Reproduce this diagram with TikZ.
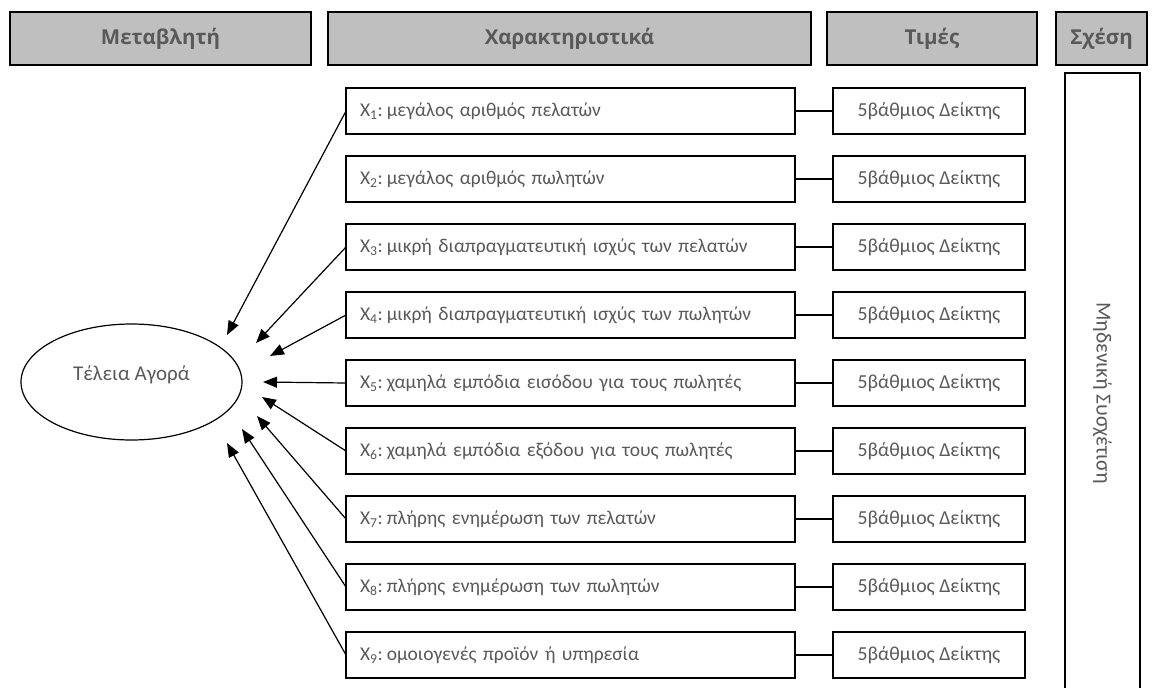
\documentclass[tikz,border=0pt]{standalone}
\usepackage{fontspec}
\setmainfont{Carlito}
\newfontfamily\headfont{Open Sans}
\usetikzlibrary{shapes.geometric, arrows.meta, positioning}
\definecolor{headgray}{HTML}{BFBFBF}
\definecolor{textgray}{HTML}{595959}
\tikzset{
    header/.style={
        rectangle,
        draw=black,
        line width=1.3pt,
        outer sep=0pt,
        fill=headgray,
        minimum height=53pt,
        text=textgray,
        font=\headfont\bfseries\fontsize{20.5}{22}\selectfont
    },
    item/.style={
        rectangle,
        draw=black,
        line width=1.2pt,
        outer sep=0pt,
        minimum height=46pt,
        text width=421pt,
        inner xsep=14pt,
        align=left,
        text=textgray,
        font=\fontsize{19.5}{21}\selectfont
    },
    value/.style={
        rectangle,
        draw=black,
        line width=1.2pt,
        outer sep=0pt,
        minimum width=192pt,
        minimum height=46pt,
        align=center,
        text=textgray,
        font=\fontsize{19.8}{21}\selectfont
    },
    link/.style={
        line width=1.2pt
    },
    arrow/.style={
        line width=1.2pt,->,>={Triangle[length=14pt,width=11pt]}
    }
}

\begin{document}
\begin{tikzpicture}[x=1pt,y=-1pt]

\useasboundingbox (0,0) rectangle (1157,688);

\node (hvar) [header, minimum width=301pt] at (160.5,38.5) {Μεταβλητή};
\node (hchar) [header, minimum width=483pt] at (569.5,38.5) {Χαρακτηριστικά};
\node (hval) [header, minimum width=210pt] at (932,38.5) {Τιμές};
\node (hrel) [header, minimum width=91pt] at (1101.5,38.5) {Σχέση};

\node (x1) [item, anchor=west] at (346,111) {X\textsubscript{1}:\hspace{4pt}μεγάλος αριθμός πελατών};
\node (x2) [item, below=22pt of x1] {X\textsubscript{2}:\hspace{4pt}μεγάλος αριθμός πωλητών};
\node (x3) [item, below=22pt of x2] {X\textsubscript{3}:\hspace{4pt}μικρή διαπραγματευτική ισχύς των πελατών};
\node (x4) [item, below=22pt of x3] {X\textsubscript{4}:\hspace{4pt}μικρή διαπραγματευτική ισχύς των πωλητών};
\node (x5) [item, below=22pt of x4] {X\textsubscript{5}:\hspace{4pt}χαμηλά εμπόδια εισόδου για τους πωλητές};
\node (x6) [item, below=22pt of x5] {X\textsubscript{6}:\hspace{4pt}χαμηλά εμπόδια εξόδου για τους πωλητές};
\node (x7) [item, below=22pt of x6] {X\textsubscript{7}:\hspace{4pt}πλήρης ενημέρωση των πελατών};
\node (x8) [item, below=22pt of x7] {X\textsubscript{8}:\hspace{4pt}πλήρης ενημέρωση των πωλητών};
\node (x9) [item, below=22pt of x8] {X\textsubscript{9}:\hspace{4pt}ομοιογενές προϊόν ή υπηρεσία};

\node (v1) [value, right=38pt of x1] {5βάθμιος Δείκτης};
\node (v2) [value, right=38pt of x2] {5βάθμιος Δείκτης};
\node (v3) [value, right=38pt of x3] {5βάθμιος Δείκτης};
\node (v4) [value, right=38pt of x4] {5βάθμιος Δείκτης};
\node (v5) [value, right=38pt of x5] {5βάθμιος Δείκτης};
\node (v6) [value, right=38pt of x6] {5βάθμιος Δείκτης};
\node (v7) [value, right=38pt of x7] {5βάθμιος Δείκτης};
\node (v8) [value, right=38pt of x8] {5βάθμιος Δείκτης};
\node (v9) [value, right=38pt of x9] {5βάθμιος Δείκτης};

\node (rel) [rectangle, draw=black, line width=1.2pt, rotate=-90,
    minimum width=640pt, minimum height=75pt, text=textgray,
    font=\fontsize{21.5}{23}\selectfont] at (1102.5,393) {Μηδενική Συσχέτιση};

\node (market) [ellipse, draw=black, line width=1.2pt, minimum width=221pt,
    minimum height=116pt, inner sep=0pt, text=textgray,
    font=\fontsize{21}{23}\selectfont] at (131.5,382) {\raisebox{18pt}{Τέλεια Αγορά}};

% arrow tips round the ellipse
\coordinate (t1) at (227,335);
\coordinate (t3) at (256,343);
\coordinate (t4) at (270,356);
\coordinate (t5) at (263,382);
\coordinate (t6) at (262,397);
\coordinate (t7) at (257,416);
\coordinate (t8) at (242,429);
\coordinate (t9) at (227,443);

\draw [link] (x1) -- (v1);
\draw [link] (x2) -- (v2);
\draw [link] (x3) -- (v3);
\draw [link] (x4) -- (v4);
\draw [link] (x5) -- (v5);
\draw [link] (x6) -- (v6);
\draw [link] (x7) -- (v7);
\draw [link] (x8) -- (v8);
\draw [link] (x9) -- (v9);

\draw [arrow] (x1.west) -- (t1);
\draw [arrow] (x3.west) -- (t3);
\draw [arrow] (x4.west) -- (t4);
\draw [arrow] (x5.west) -- (t5);
\draw [arrow] (x6.west) -- (t6);
\draw [arrow] (x7.west) -- (t7);
\draw [arrow] (x8.west) -- (t8);
\draw [arrow] (x9.west) -- (t9);

\end{tikzpicture}
\end{document}
